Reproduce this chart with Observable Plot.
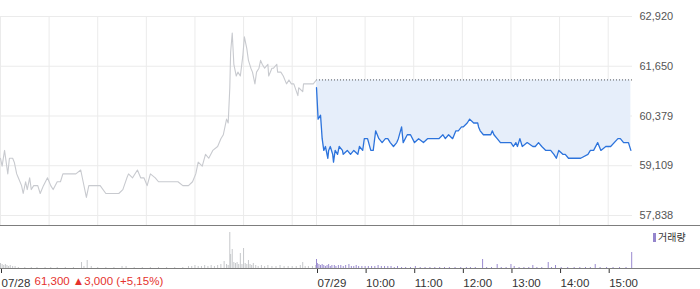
<!DOCTYPE html>
<html><head><meta charset="utf-8">
<script src="https://cdn.jsdelivr.net/npm/d3@7"></script>
<script src="https://cdn.jsdelivr.net/npm/@observablehq/plot@0.6"></script>
<style>
body{margin:0;background:#fff;font-family:"Liberation Sans",Arial,"Noto Sans CJK KR",sans-serif;}
#wrap{position:relative;width:700px;height:289px;overflow:hidden;background:#fff}
#main{position:absolute;left:0;top:0;width:700px;height:226px}
#vol{position:absolute;left:0;top:226px;width:700px;height:63px}
.hline{position:absolute;left:0;width:700px;height:1px;background:#7d7d7d}
#legend{position:absolute;left:653px;top:231px;font-size:10px;line-height:12px;color:#333;font-family:"Noto Sans CJK KR",sans-serif}
#legend span{display:inline-block;width:3px;height:9px;background:#9585cc;margin-right:2px;vertical-align:-1px}
</style></head>
<body>
<div id="wrap">
  <div id="main"></div>
  <div id="vol"></div>
  <div class="hline" style="top:225px"></div>
  <div class="hline" style="top:268px"></div>
  <div id="legend"><span></span>거래량</div>
</div>
<script>
// ---- data ----
const prevClose = 61300;
const yTicks = [57838, 59109, 60379, 61650, 62920];
const gridMin = [0, 60, 120, 180, 240, 300, 360, 390, 450, 510, 570, 630, 690, 750];
const xTickMin = [0, 390, 450, 510, 570, 630, 690, 750];
const xTickLabels = ["07/28", "07/29", "10:00", "11:00", "12:00", "13:00", "14:00", "15:00"];
const changeText = ["61,300 ▲3,000 (+5,15%)"];

// 07/28 (minutes after 09:00)
const day1Min = [0,2,5,9,11,15,17,20,22,26,28,31,33,36,38,41,46,49,53,58,62,65,70,74,77,83,89,93,99,102,106,109,115,123,130,136,146,151,156,158,163,169,173,177,181,185,191,195,201,210,219,225,232,237,241,244,249,253,257,262,268,272,275,279,281,283,284,286,288,291,293,296,299,301,304,306,309,311,314,316,319,321,323,326,330,331,335,337,341,342,346,349,353,356,359,362,367,368,373,374,379,386,390];
const day1Price = [59300,59100,59500,58900,59300,59300,59200,58900,58800,58600,58400,58700,58500,58800,58500,58600,58600,58400,58600,58800,58600,58500,58700,58700,58900,58900,58900,58900,59000,58700,58300,58600,58600,58600,58400,58400,58400,58500,58800,58900,58800,59000,58800,58800,58600,58900,58800,58700,58700,58700,58700,58600,58600,58700,58900,59200,59100,59400,59300,59500,59600,59800,59900,60300,60200,61100,62000,62500,61700,61400,61500,61400,61900,62400,62100,61800,61600,61500,61200,61500,61600,61800,61700,61600,61700,61400,61600,61600,61700,61500,61500,61400,61200,61300,61200,61200,60900,61100,61000,61200,61200,61200,61300];

// 07/29 (minutes after 09:00)
const day2Min = [0,2,5,7,9,11,14,15,17,20,21,23,26,28,32,33,38,42,46,51,53,57,59,63,67,70,73,77,81,85,88,91,95,99,101,105,107,112,116,121,126,132,137,143,151,156,159,163,168,172,175,179,181,186,189,194,199,200,202,206,212,215,217,219,223,227,236,240,243,246,248,251,254,260,267,270,274,278,283,289,293,296,299,304,307,311,317,326,335,338,342,347,351,357,363,372,375,379,385,388];
const day2Price = [61100,60300,60400,59800,59500,59600,59300,59500,59600,59400,59200,59500,59400,59600,59500,59400,59500,59400,59500,59400,59600,59500,59800,59800,59500,59500,60000,59800,59700,59800,59800,59700,59600,59700,59800,60100,59700,59900,59900,59700,59800,59700,59800,59800,59800,59900,59800,59900,59800,60000,60000,60100,60100,60200,60300,60200,60200,60100,60000,59900,59900,59900,60000,59900,59800,59700,59700,59700,59600,59700,59600,59800,59600,59700,59600,59600,59700,59600,59500,59500,59400,59300,59500,59400,59400,59300,59300,59300,59400,59500,59500,59700,59500,59600,59600,59800,59800,59700,59700,59500];

// volume (thousand shares)
const vol1Min = [0,2,4,6,8,10,12,15,18,22,30,38,45,55,62,70,80,90,100,103,107,112,120,130,140,150,155,165,175,185,195,205,215,225,232,236,240,244,248,252,256,260,264,268,272,276,279,281,283,284,286,288,290,292,294,296,298,300,302,304,306,308,310,312,315,318,322,326,330,335,340,345,350,355,360,365,370,373,376,380,385,389];
const vol1 = [100,80,60,80,60,40,60,40,40,20,20,20,20,20,20,20,20,20,120,40,160,40,20,20,20,40,40,20,20,20,20,20,20,20,40,40,60,40,40,60,40,60,40,60,80,140,80,60,720,280,380,120,100,120,80,300,80,400,100,80,160,80,60,100,60,40,60,40,60,40,40,60,40,40,40,40,60,120,40,40,40,60];
const vol2Min = [0,1,3,5,7,9,11,13,15,17,19,22,24,27,30,33,36,40,43,46,49,52,56,60,64,68,72,76,80,84,88,92,96,100,105,110,116,122,128,134,140,146,152,158,164,171,178,185,190,196,205,210,216,223,228,234,240,244,250,256,262,267,272,278,286,290,295,302,310,318,325,332,338,344,350,358,366,374,382,389];
const vol2 = [180,100,80,60,80,60,40,60,80,40,60,60,40,60,60,40,60,80,40,40,60,40,40,40,40,40,40,60,40,40,40,40,20,40,20,20,20,40,20,20,20,20,20,20,20,20,20,20,20,20,180,20,20,80,20,20,80,40,20,20,20,60,20,20,120,20,60,20,20,20,20,20,20,80,20,20,20,20,20,320];

// ---- build ----
const d1 = day1Min.map((m, i) => ({t: m, p: day1Price[i]}));
const d2 = day2Min.map((m, i) => ({t: m + 390, p: day2Price[i]}));
const v1 = vol1Min.map((m, i) => ({t: m, v: vol1[i]}));
const v2 = vol2Min.map((m, i) => ({t: m + 390, v: vol2[i]}));
const labelMap = new Map(xTickMin.map((m, i) => [m, xTickLabels[i]]));
const font = '"Liberation Sans", Arial, "Noto Sans CJK KR", sans-serif';

const main = Plot.plot({
  width: 700, height: 226,
  marginLeft: 0, marginRight: 68, marginTop: 16, marginBottom: 1,
  x: {domain: [0, 780], axis: null},
  y: {domain: [57838, 62920], range: [215, 16], axis: null},
  style: {fontFamily: font, fontSize: "11px", background: "transparent"},
  marks: [
    Plot.ruleY(yTicks, {stroke: "#ebebeb"}),
    Plot.ruleX(gridMin, {stroke: "#ebebeb"}),
    Plot.areaY(d2, {x: "t", y1: prevClose, y2: "p", fill: "#e6eefa"}),
    Plot.ruleY([prevClose], {x1: 390, x2: 780, stroke: "#555", strokeDasharray: "1,2"}),
    Plot.line(d1, {x: "t", y: "p", stroke: "#c8cacf", strokeWidth: 1.1}),
    Plot.line(d2, {x: "t", y: "p", stroke: "#2c73dc", strokeWidth: 1.3}),
    Plot.axisY({ticks: yTicks, anchor: "right", tickSize: 0, tickPadding: 7,
      tickFormat: d3.format(","), color: "#555", label: null})
  ]
});
document.getElementById("main").append(main);

const vol = Plot.plot({
  width: 700, height: 63,
  marginLeft: 0, marginRight: 68, marginTop: 0, marginBottom: 21,
  x: {domain: [0, 780], axis: null},
  y: {domain: [0, 840], axis: null},
  style: {fontFamily: font, fontSize: "11.5px", background: "transparent"},
  marks: [
    Plot.ruleX(v1, {x: "t", y1: 0, y2: "v", stroke: "#c6c8cb"}),
    Plot.ruleX(v2, {x: "t", y1: 0, y2: "v", stroke: "#9a8bd0"}),
    Plot.axisX({ticks: xTickMin, anchor: "bottom", tickSize: 5, tickPadding: 5,
      tickFormat: d => labelMap.get(d), textAnchor: "start", dx: 1, color: "#333", label: null}),
    Plot.text(changeText, {x: () => 0, frameAnchor: "bottom", dx: 34, dy: 16,
      textAnchor: "start", fill: "#e5322d", text: d => d})
  ]
});
document.getElementById("vol").append(vol);
</script>
</body></html>
